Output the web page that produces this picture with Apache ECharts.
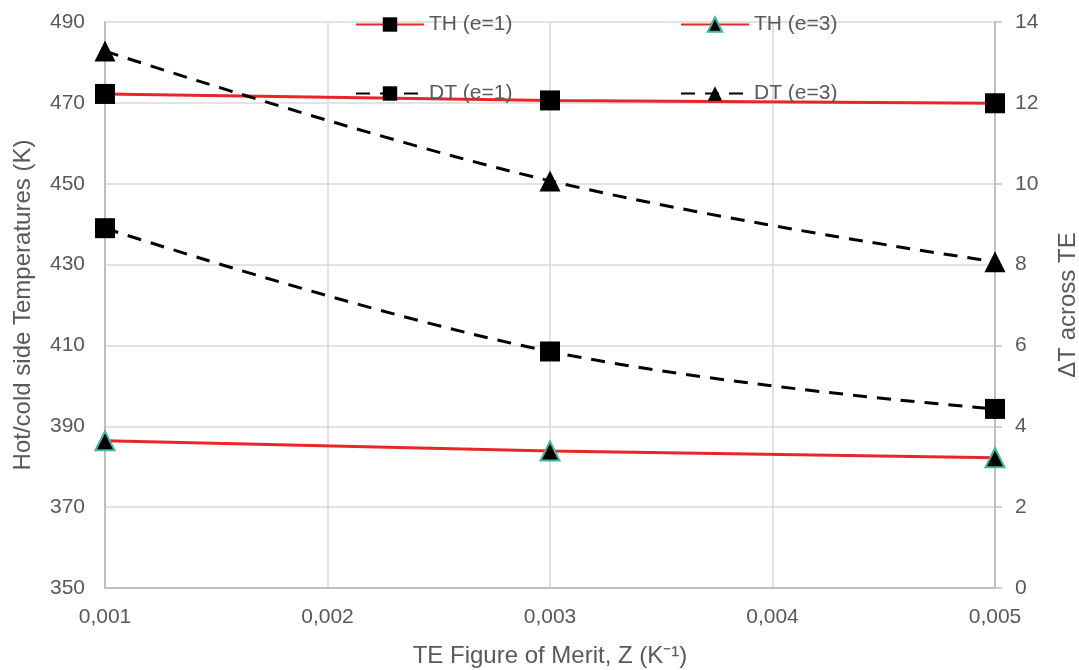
<!DOCTYPE html>
<html><head><meta charset="utf-8">
<script src="https://cdn.jsdelivr.net/npm/echarts@6/dist/echarts.min.js"></script>
<style>html,body{margin:0;padding:0;background:#fff}#c{width:1079px;height:670px}</style>
</head><body><div id="c"></div>
<script>
const zValues = [0.001, 0.003, 0.005];
const thE1 = [472.2, 470.6, 469.9];
const thE3 = [386.4, 383.9, 382.2];
const dtE1 = [8.9, 5.85, 4.43];
const dtE3 = [13.28, 10.07, 8.07];
const seriesNames = ['TH (e=1)', 'TH (e=3)', 'DT (e=1)', 'DT (e=3)'];
const fmt = v => v.toFixed(3).replace('.', ',');
const pts = arr => zValues.map((z, i) => [z, arr[i]]);

const chart = echarts.init(document.getElementById('c'));
const grey = '#595959';
const font = 'Liberation Sans, Arial, sans-serif';
const red = '#E8262A';
const teal = '#3DB8A0';
const dash = [14, 10];
const legendBase = {
  itemWidth: 68, itemHeight: 18, itemGap: 0,
  textStyle: { color: grey, fontSize: 21, fontFamily: font }
};
chart.setOption({
  animation: false,
  textStyle: { fontFamily: font },
  grid: { left: 105, right: 84, top: 22, bottom: 82, containLabel: false, outerBoundsMode: 'none' },
  legend: [
    Object.assign({ data: [seriesNames[0]], left: 350, top: 9 }, legendBase),
    Object.assign({ data: [seriesNames[1]], left: 675, top: 9 }, legendBase),
    Object.assign({ data: [seriesNames[2]], left: 350, top: 78 }, legendBase),
    Object.assign({ data: [seriesNames[3]], left: 675, top: 78 }, legendBase)
  ],
  xAxis: {
    type: 'value', min: 0.001, max: 0.005, interval: 0.001,
    name: 'TE Figure of Merit, Z (K⁻¹)', nameLocation: 'middle', nameGap: 56,
    nameTextStyle: { color: grey, fontSize: 24, fontFamily: font },
    axisLine: { lineStyle: { color: '#BFBFBF', width: 2 } },
    axisTick: { show: false },
    axisLabel: { color: grey, fontSize: 21, margin: 19, formatter: fmt },
    splitLine: { lineStyle: { color: '#D9D9D9', width: 1.5 } }
  },
  yAxis: [
    {
      type: 'value', min: 350, max: 490, interval: 20, position: 'left',
      name: 'Hot/cold side Temperatures (K)', nameLocation: 'middle', nameGap: 70,
      nameTextStyle: { color: grey, fontSize: 24, fontFamily: font },
      axisLine: { show: true, lineStyle: { color: '#BFBFBF', width: 2 } },
      axisTick: { show: false },
      axisLabel: { color: grey, fontSize: 21, margin: 20 },
      splitLine: { lineStyle: { color: '#D9D9D9', width: 1.5 } }
    },
    {
      type: 'value', min: 0, max: 14, interval: 2, position: 'right',
      name: 'ΔT across TE', nameLocation: 'middle', nameGap: 61,
      nameTextStyle: { color: grey, fontSize: 24, fontFamily: font },
      axisLine: { show: true, lineStyle: { color: '#BFBFBF', width: 2 } },
      axisTick: { show: true, length: 7, lineStyle: { color: '#BFBFBF', width: 1.5 } },
      axisLabel: { color: grey, fontSize: 21, margin: 20 },
      splitLine: { show: false }
    }
  ],
  series: [
    { name: seriesNames[0], type: 'line', yAxisIndex: 0, data: pts(thE1),
      symbol: 'rect', symbolSize: 20, lineStyle: { color: red, width: 3 },
      itemStyle: { color: '#000' }, color: red },
    { name: seriesNames[1], type: 'line', yAxisIndex: 0, data: pts(thE3),
      symbol: 'triangle', symbolSize: 19, lineStyle: { color: red, width: 3 },
      itemStyle: { color: '#000', borderColor: teal, borderWidth: 2 }, color: red },
    { name: seriesNames[2], type: 'line', yAxisIndex: 1, data: pts(dtE1), smooth: 0.4,
      symbol: 'rect', symbolSize: 20, lineStyle: { color: '#000', width: 3, type: dash },
      itemStyle: { color: '#000' }, color: '#000' },
    { name: seriesNames[3], type: 'line', yAxisIndex: 1, data: pts(dtE3), smooth: 0.4,
      symbol: 'triangle', symbolSize: 21, lineStyle: { color: '#000', width: 3, type: dash },
      itemStyle: { color: '#000' }, color: '#000' }
  ]
});
</script></body></html>
